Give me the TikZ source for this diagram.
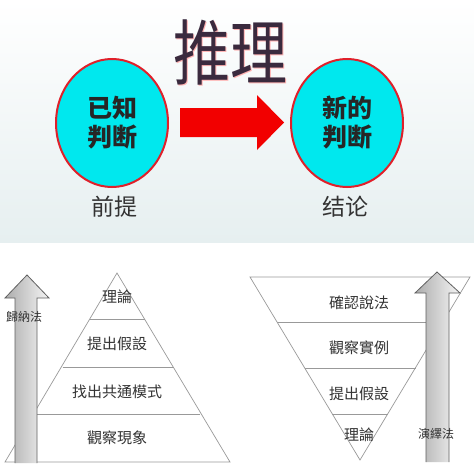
\documentclass[tikz,border=0pt]{standalone}
\usepackage{fontspec}
\newfontfamily\cjksc{Noto Sans CJK SC}
\newfontfamily\cjktc{Noto Sans CJK TC}
\usetikzlibrary{shapes.geometric}
\definecolor{cyanfill}{HTML}{00E8EE}
\definecolor{redline}{HTML}{E0202A}
\definecolor{bgbot}{HTML}{E6EFF0}
\definecolor{titlec}{HTML}{3A2A3E}
\tikzset{
  judge/.style={ellipse, draw=redline, line width=2pt, fill=cyanfill, minimum width=112pt, minimum height=128pt, inner sep=0pt, align=center, font=\cjksc\bfseries\fontsize{25}{29}\selectfont, text=black!85},
  caption/.style={font=\cjksc\fontsize{23}{26}\selectfont, text=black!80},
  lvl/.style={font=\cjktc\fontsize{15}{18}\selectfont, text=black!80},
  side/.style={font=\cjktc\fontsize{12}{14}\selectfont, text=black!80},
  tri/.style={draw=gray!80, line width=0.7pt},
  garrow/.style={draw=gray!75!black, line width=0.8pt},
}
\begin{document}
\begin{tikzpicture}[x=1pt,y=-1pt]
\useasboundingbox (0,0) rectangle (474,474);
\fill[white] (0,0) rectangle (474,474);
\shade[top color=white, bottom color=bgbot] (0,0) rectangle (474,242);
% title
\node[font=\cjksc\fontsize{57}{60}\selectfont, text=red!30, yscale=1.25] at (231.5,53.5) {推理};
\node[font=\cjksc\fontsize{57}{60}\selectfont, text=titlec, yscale=1.25] (title) at (230,52) {推理};
% circles
\node[judge] (kn) at (112,123) {已知\\判断};
\node[judge] (nj) at (347,123) {新的\\判断};
\node[caption] (premise) at (114,207) {前提};
\node[caption] (concl) at (345,207) {结论};
% red arrow
\fill[red!95!black] (180,108) -- (257,108) -- (257,95) -- (284,122.5) -- (257,150) -- (257,137) -- (180,137) -- cycle;
% left pyramid
\coordinate (pa) at (117,273);
\coordinate (pl) at (5,462);
\coordinate (pr) at (230,462);
\draw[tri] (pa) -- (pl) -- (pr) -- cycle;
\draw[tri] (90,319) -- (145,319);
\draw[tri] (62.5,367) -- (172.5,367);
\draw[tri] (35,414) -- (200,414);
\node[lvl] (l1) at (117,297) {理論};
\node[lvl] (l2) at (117,344) {提出假設};
\node[lvl] (l3) at (117,392) {找出共通模式};
\node[lvl] (l4) at (117,438) {觀察現象};
% left arrow
\shade[left color=gray!65, right color=gray!8] (15,463) -- (15,298) -- (5,298) -- (27,275) -- (49,298) -- (37,298) -- (37,463) -- cycle;
\draw[garrow] (15,463) -- (15,298) -- (5,298) -- (27,275) -- (49,298) -- (37,298) -- (37,463);
\node[side] (ind) at (24,317) {歸納法};
% right inverted pyramid
\coordinate (qa) at (360,460);
\coordinate (ql) at (250,277);
\coordinate (qr) at (470,277);
\draw[tri] (ql) -- (qr) -- (qa) -- cycle;
\draw[tri] (277,322) -- (443,322);
\draw[tri] (304.5,368) -- (415.5,368);
\draw[tri] (332,414) -- (388,414);
\node[lvl] (r1) at (359,303) {確認說法};
\node[lvl] (r2) at (359,348) {觀察實例};
\node[lvl] (r3) at (359,394) {提出假設};
\node[lvl] (r4) at (359,435) {理論};
% right arrow
\shade[left color=gray!65, right color=gray!8] (426,462) -- (426,293) -- (415,293) -- (437,272) -- (460,293) -- (449,293) -- (449,462) -- cycle;
\draw[garrow] (426,462) -- (426,293) -- (415,293) -- (437,272) -- (460,293) -- (449,293) -- (449,462);
\node[side] (ded) at (436,434) {演繹法};
\end{tikzpicture}
\end{document}
